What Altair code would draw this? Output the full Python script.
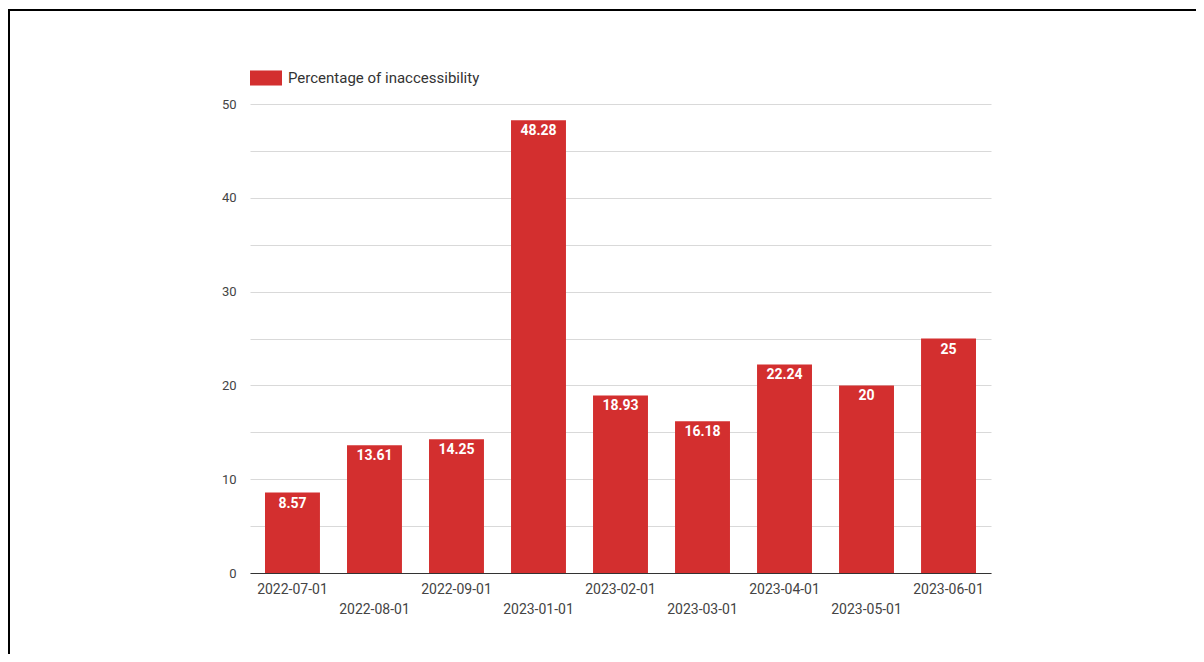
import altair as alt
import pandas as pd

dates = ["2022-07-01", "2022-08-01", "2022-09-01", "2023-01-01", "2023-02-01",
         "2023-03-01", "2023-04-01", "2023-05-01", "2023-06-01"]
values = [8.57, 13.61, 14.25, 48.28, 18.93, 16.18, 22.24, 20, 25]
series_name = "Percentage of inaccessibility"
label_rows = [0, 1, 0, 1, 0, 1, 0, 1, 0]
y_ticks = list(range(0, 51, 5))

df = pd.DataFrame({
    "date": dates,
    "value": values,
    "series": series_name,
    "row": label_rows,
    "label": [f"{v:g}" for v in values],
})

W, H = 741, 469
FONT = "Roboto"
RED = "#d32f2f"

x_enc = alt.X("date:N", sort=dates,
              scale=alt.Scale(paddingInner=0.33, paddingOuter=0.183),
              axis=alt.Axis(labels=False, ticks=False, title=None, domain=True,
                            domainColor="#333333", domainWidth=1, grid=False, zindex=1))
y_enc = alt.Y("value:Q", scale=alt.Scale(domain=[0, 50], nice=False),
              axis=alt.Axis(values=y_ticks,
                            labelExpr="datum.value % 10 == 0 ? datum.label : ''",
                            title=None, domain=False, ticks=False,
                            gridColor="#d9d9d9", gridWidth=1,
                            labelPadding=14, labelFontSize=13, labelColor="#444444",
                            labelFont=FONT))

base = alt.Chart(df)

bars = base.mark_bar(opacity=1).encode(
    x=x_enc,
    y=y_enc,
    color=alt.Color("series:N", scale=alt.Scale(range=[RED]),
                    legend=alt.Legend(
                        title=None, orient="none", legendX=0, legendY=-42,
                        symbolType="M-1,-0.47H1V0.47H-1Z", symbolSize=1024,
                        symbolStrokeWidth=0, symbolOpacity=1,
                        labelFont=FONT, labelFontSize=15, labelColor="#333333",
                        labelOffset=6, labelLimit=0, padding=0)),
)

bar_labels = base.mark_text(color="white", font=FONT, fontSize=14, fontWeight="bold",
                            baseline="alphabetic", dy=15).encode(
    x=alt.X("date:N", sort=dates), y="value:Q", text="label:N")

xlab0 = base.transform_filter("datum.row == 0").mark_text(
    font=FONT, fontSize=14, color="#444444", baseline="alphabetic").encode(
    x=alt.X("date:N", sort=dates), y=alt.value(H + 21), text="date:N")
xlab1 = base.transform_filter("datum.row == 1").mark_text(
    font=FONT, fontSize=14, color="#444444", baseline="alphabetic").encode(
    x=alt.X("date:N", sort=dates), y=alt.value(H + 41), text="date:N")

frame_df = pd.DataFrame({"k": [0]})
top_border = alt.Chart(frame_df).mark_rule(color="black", strokeWidth=2).encode(
    x=alt.value(-241), x2=alt.value(W + 210), y=alt.value(-94))
left_border = alt.Chart(frame_df).mark_rule(color="black", strokeWidth=2).encode(
    x=alt.value(-241), y=alt.value(-95), y2=alt.value(H + 90))

chart = alt.layer(bars, bar_labels, xlab0, xlab1, top_border, left_border).properties(
    width=W, height=H,
    autosize=alt.AutoSizeParams(type="none"),
    padding={"left": 242, "top": 96, "right": 205, "bottom": 81},
    background="white",
).configure_view(stroke=None)

chart.save("out.html", embed_options={"renderer": "svg", "actions": False})
